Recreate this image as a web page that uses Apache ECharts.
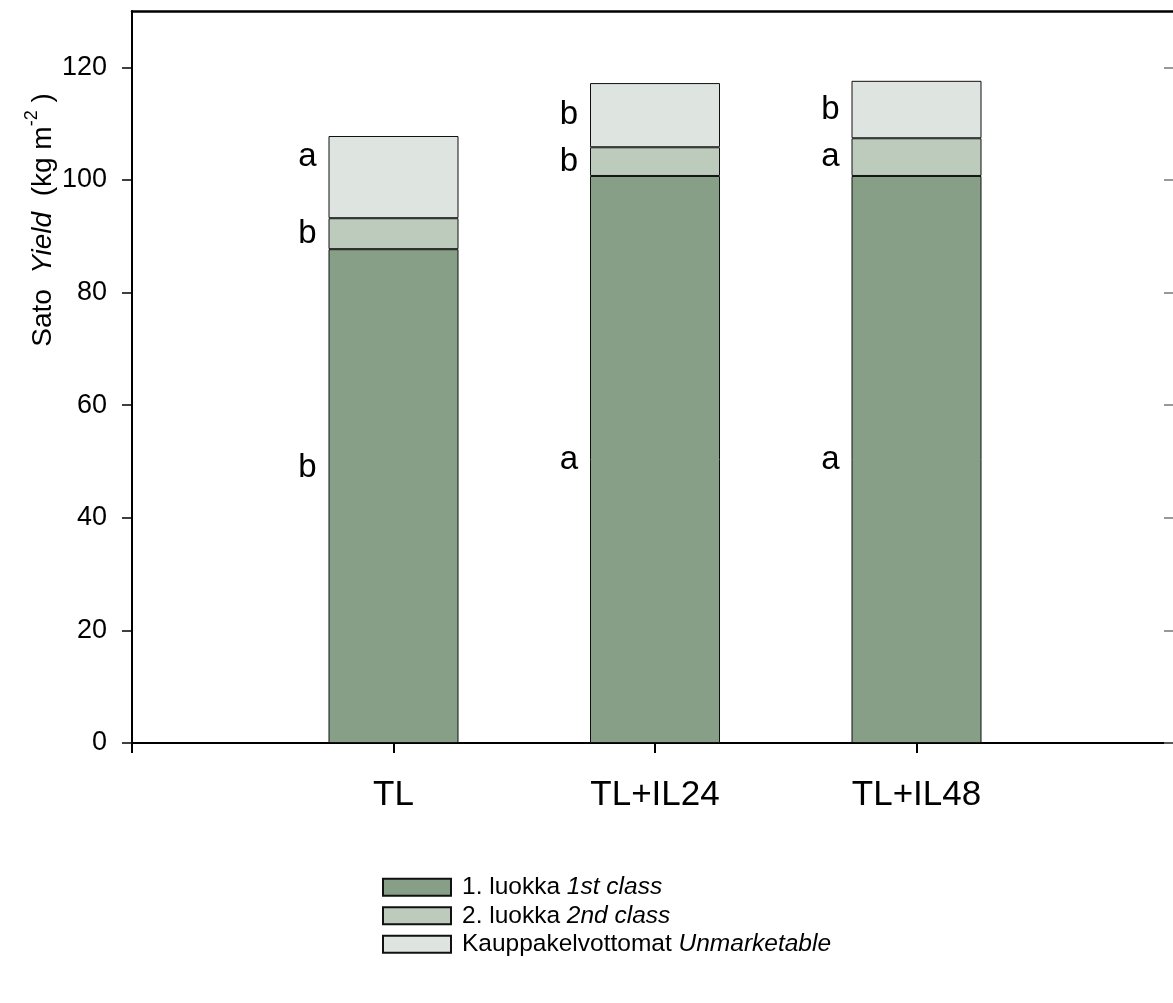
<!DOCTYPE html>
<html>
<head>
<meta charset="utf-8">
<script src="https://cdn.jsdelivr.net/npm/echarts@6/dist/echarts.min.js"></script>
<style>
  html, body { margin: 0; padding: 0; background: #fff; }
  #yield_chart { width: 1173px; height: 1003px; }
</style>
</head>
<body>
<div id="yield_chart"></div>
<script>
// 处理组 treatments
var categories = ['TL', 'TL+IL24', 'TL+IL48']
// kg m-2
var firstClass = [87.7, 100.7, 100.7]
var secondClass = [5.5, 5.1, 6.7]
var unmarketable = [14.6, 11.4, 10.2]
// significance letters per segment
var firstLetters = ['b', 'a', 'a']
var secondLetters = ['b', 'b', 'a']
var unmarkLetters = ['a', 'b', 'b']
var yTicks = [0, 20, 40, 60, 80, 100, 120]

var FONT = '"Liberation Sans", Arial, sans-serif'
var legendNames = {
  first: '{n|1. luokka }{i|1st class}',
  second: '{n|2. luokka }{i|2nd class}',
  unmark: '{n|Kauppakelvottomat }{i|Unmarketable}'
}

var myChart = echarts.init(document.getElementById('yield_chart'))

// empty slots on both sides so the groups sit at 1/4, 1/2, 3/4
var axisCats = [''].concat(categories, [''])

function padded (arr) {
  return ['-'].concat(arr, ['-'])
}

// label offsets only for the TL column, letters sit a bit higher there
function barSeries (id, color, values, letters, tlOffset) {
  return {
    name: id,
    type: 'bar',
    stack: 'yield',
    barWidth: 130,
    itemStyle: { color: color, borderColor: '#111', borderWidth: 1 },
    label: {
      show: true,
      position: 'left',
      distance: 12,
      color: '#000',
      fontFamily: FONT,
      fontSize: 33,
      formatter: function (p) { return letters[p.dataIndex - 1] }
    },
    data: padded(values).map(function (v, i) {
      if (i === 1 && tlOffset) {
        return { value: v, label: { offset: [0, tlOffset] } }
      }
      return v
    })
  }
}

var option = {
  animation: false,
  // the frame runs a little past the right edge of the picture
  grid: { left: 132, width: 1046, top: 11, height: 732, outerBoundsMode: 'none' },
  xAxis: [
    {
      type: 'category',
      data: axisCats,
      boundaryGap: false,
      position: 'bottom',
      axisLine: { show: true, onZero: false, lineStyle: { color: '#000', width: 2 } },
      axisTick: { show: true, length: 10, lineStyle: { color: '#000', width: 2 } },
      splitLine: { show: false },
      axisLabel: {
        margin: 35,
        color: '#000',
        fontFamily: FONT,
        fontSize: 35
      }
    },
    {
      type: 'category',
      data: axisCats,
      boundaryGap: false,
      position: 'top',
      axisLine: { show: true, onZero: false, lineStyle: { color: '#000', width: 2.5 } },
      axisTick: { show: false },
      axisLabel: { show: false },
      splitLine: { show: false }
    }
  ],
  yAxis: [
    {
      type: 'value',
      min: 0,
      max: 130,
      interval: 20,
      position: 'left',
      axisLine: { show: true, lineStyle: { color: '#000', width: 2 } },
      axisTick: { show: true, length: 10, customValues: yTicks, lineStyle: { color: '#000', width: 1.5 } },
      splitLine: { show: false },
      axisLabel: {
        margin: 25,
        color: '#000',
        fontFamily: FONT,
        fontSize: 27,
        customValues: yTicks
      }
    },
    {
      type: 'value',
      min: 0,
      max: 130,
      interval: 20,
      position: 'right',
      axisLine: { show: false },
      axisTick: { show: true, inside: true, length: 14, customValues: yTicks, lineStyle: { color: '#777', width: 1.5 } },
      axisLabel: { show: false },
      splitLine: { show: false }
    }
  ],
  legend: {
    orient: 'vertical',
    left: 377,
    top: 868,
    icon: 'rect',
    itemWidth: 68,
    itemHeight: 17,
    itemGap: 0,
    data: ['first', 'second', 'unmark'],
    formatter: function (name) { return legendNames[name] },
    textStyle: {
      color: '#000',
      fontFamily: FONT,
      fontSize: 24.5,
      lineHeight: 28.5,
      padding: [0, 0, 0, 6],
      rich: {
        n: { fontFamily: FONT, fontSize: 24.5, lineHeight: 28.5, color: '#000' },
        i: { fontFamily: FONT, fontSize: 24.5, lineHeight: 28.5, fontStyle: 'italic', color: '#000' }
      }
    }
  },
  graphic: [
    {
      type: 'text',
      x: 40,
      y: 220,
      rotation: Math.PI / 2,
      style: {
        text: '{n|Sato  }{i|Yield}{n|  (kg m}{s|-2}{n| )}',
        align: 'center',
        verticalAlign: 'middle',
        fill: '#000',
        rich: {
          n: { fontFamily: FONT, fontSize: 28, lineHeight: 34, verticalAlign: 'bottom' },
          i: { fontFamily: FONT, fontSize: 28, fontStyle: 'italic', lineHeight: 34, verticalAlign: 'bottom' },
          s: { fontFamily: FONT, fontSize: 18, lineHeight: 34, verticalAlign: 'top' }
        }
      }
    }
  ],
  series: [
    barSeries('first', '#879e87', firstClass, firstLetters, -28),
    barSeries('second', '#bccbbb', secondClass, secondLetters, 0),
    barSeries('unmark', '#dee4e0', unmarketable, unmarkLetters, -20)
  ]
}

myChart.setOption(option)
window.onresize = myChart.resize
</script>
</body>
</html>
